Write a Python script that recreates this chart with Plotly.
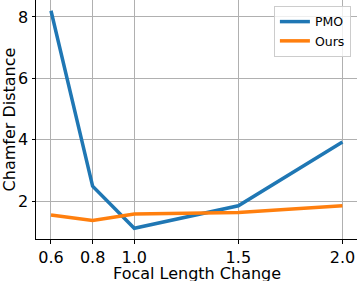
import plotly.graph_objects as go

focal = [0.6, 0.8, 1.0, 1.5, 2.0]
pmo = [8.2, 2.49, 1.12, 1.85, 3.93]
ours = [1.55, 1.37, 1.58, 1.63, 1.85]
x_ticks = [0.6, 0.8, 1.0, 1.5, 2.0]
x_tick_labels = ["0.6", "0.8", "1.0", "1.5", "2.0"]
y_ticks = [2, 4, 6, 8]

fig = go.Figure()
fig.add_trace(go.Scatter(x=focal, y=pmo, mode="lines", name="PMO",
                         line=dict(color="#1f77b4", width=3.5)))
fig.add_trace(go.Scatter(x=focal, y=ours, mode="lines", name="Ours",
                         line=dict(color="#ff7f0e", width=3.5)))

font = "DejaVu Sans, sans-serif"
fig.update_layout(
    width=357, height=281,
    margin=dict(l=36, r=0, t=0, b=42, autoexpand=False),
    plot_bgcolor="white", paper_bgcolor="white",
    font=dict(family=font, size=16, color="black"),
    showlegend=True,
    legend=dict(x=0.981, y=0.975, xanchor="right", yanchor="top",
                bgcolor="rgba(255,255,255,0.8)", bordercolor="#cccccc",
                borderwidth=1, font=dict(size=12.5, family=font),
                itemwidth=30, tracegroupgap=0),
    annotations=[dict(text="Focal Length Change", xref="paper", yref="paper",
                      x=0.5, y=-0.144, xanchor="center", yanchor="middle",
                      showarrow=False, font=dict(size=16, family=font))],
)
fig.update_xaxes(
    range=[0.528, 2.07], tickvals=x_ticks, ticktext=x_tick_labels,
    showgrid=True, gridcolor="#b0b0b0", gridwidth=0.8, zeroline=False,
    showline=True, linecolor="black", linewidth=1, automargin=False,
    ticks="outside", ticklen=3.5, tickwidth=0.8, tickcolor="black",
    tickfont=dict(size=16),
)
fig.update_yaxes(
    range=[0.77, 8.55], tickvals=y_ticks,
    showgrid=True, gridcolor="#b0b0b0", gridwidth=0.8, zeroline=False,
    showline=True, linecolor="black", linewidth=1, automargin=False,
    ticks="outside", ticklen=3.5, tickwidth=0.8, tickcolor="black",
    title=dict(text="Chamfer Distance", font=dict(size=16), standoff=2),
    tickfont=dict(size=16),
)
fig.write_html("out.html", config={"displayModeBar": False},
               post_script="document.body.style.margin='0';")
